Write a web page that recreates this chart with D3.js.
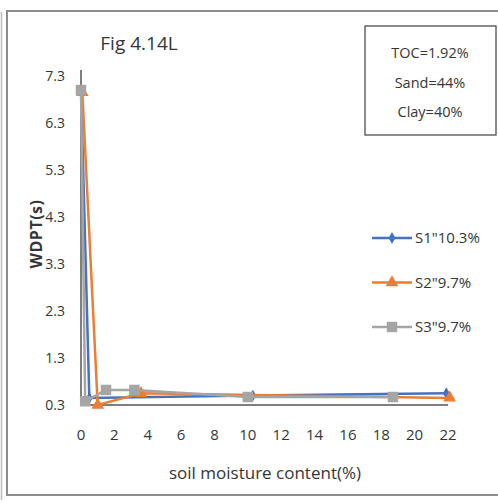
<!DOCTYPE html>
<html>
<head>
<meta charset="utf-8">
<script src="https://cdn.jsdelivr.net/npm/d3@7"></script>
<style>
  body { margin: 0; background: #fff; }
  text { font-family: "Open Sans", "Liberation Sans", sans-serif; fill: #363636; }
</style>
</head>
<body>
<div id="chart"></div>
<script>
// data
const s1X = [0, 0.5, 10.3, 21.9];
const s1Y = [7.0, 0.45, 0.5, 0.55];
const s2X = [0.08, 1.0, 3.6, 22.1];
const s2Y = [6.95, 0.3, 0.55, 0.45];
const s3X = [0, 0.25, 1.5, 3.2, 10.0, 18.7];
const s3Y = [7.0, 0.38, 0.62, 0.62, 0.47, 0.47];
const seriesNames = ["S1\"10.3%", "S2\"9.7%", "S3\"9.7%"];
const xTicks = [0, 2, 4, 6, 8, 10, 12, 14, 16, 18, 20, 22];
const yTicks = [0.3, 1.3, 2.3, 3.3, 4.3, 5.3, 6.3, 7.3];
const infoLines = ["TOC=1.92%", "Sand=44%", "Clay=40%"];

const W = 498, H = 503;
const svg = d3.select("#chart").append("svg")
    .attr("width", W).attr("height", H);

// outer frame
svg.append("line").attr("x1", 1.5).attr("x2", 1.5).attr("y1", 12).attr("y2", 500)
    .attr("stroke", "#bbb").attr("stroke-width", 1.5);
svg.append("rect").attr("x", 7).attr("y", 11).attr("width", 495).attr("height", 484)
    .attr("fill", "none").attr("stroke", "#8c8c8c").attr("stroke-width", 2);

const x = d3.scaleLinear().domain([0, 22]).range([81, 448]);
const y = d3.scaleLinear().domain([0.3, 7.3]).range([405, 76]);

// title
svg.append("text").attr("x", 139).attr("y", 50).attr("text-anchor", "middle")
    .style("font-size", "19px").text("Fig 4.14L");

// axes
svg.append("line").attr("x1", x(0)).attr("x2", x(0)).attr("y1", 70).attr("y2", y(0.3))
    .attr("stroke", "#7f7f7f").attr("stroke-width", 2);
svg.append("line").attr("x1", x(0)).attr("x2", x(22)).attr("y1", y(0.3)).attr("y2", y(0.3))
    .attr("stroke", "#7f7f7f").attr("stroke-width", 2);

svg.append("g").selectAll("text").data(yTicks).join("text")
    .attr("x", 65).attr("y", d => y(d)).attr("dy", "0.35em")
    .attr("text-anchor", "end").style("font-size", "14px")
    .text(d => d.toFixed(1));

svg.append("g").selectAll("text").data(xTicks).join("text")
    .attr("x", d => x(d)).attr("y", 440)
    .attr("text-anchor", "middle").style("font-size", "15px")
    .text(d => d);

svg.append("text").attr("x", 265).attr("y", 479).attr("text-anchor", "middle")
    .style("font-size", "17px").text("soil moisture content(%)");

svg.append("text").attr("transform", "translate(42,234) rotate(-90)")
    .attr("text-anchor", "middle").style("font-size", "16px")
    .style("font-weight", "bold").style("letter-spacing", "0.5px").text("WDPT(s)");

// series
const series = [
  {name: seriesNames[0], xs: s1X, ys: s1Y, color: "#4472C4", sym: d3.symbolDiamond, size: 40},
  {name: seriesNames[1], xs: s2X, ys: s2Y, color: "#ED7D31", sym: d3.symbolTriangle, size: 70},
  {name: seriesNames[2], xs: s3X, ys: s3Y, color: "#A5A5A5", sym: d3.symbolSquare, size: 110}
];

const line = d3.line().x(d => x(d[0])).y(d => y(d[1]));

series.forEach(s => {
  const pts = s.xs.map((v, i) => [v, s.ys[i]]);
  const g = svg.append("g");
  g.append("path").datum(pts).attr("d", line)
      .attr("fill", "none").attr("stroke", s.color).attr("stroke-width", 2.5);
  g.selectAll("path.m").data(pts).join("path").attr("class", "m")
      .attr("transform", d => `translate(${x(d[0])},${y(d[1])})`)
      .attr("d", d3.symbol().type(s.sym).size(s.size))
      .attr("fill", s.color);
});

// legend
const leg = svg.append("g").selectAll("g").data(series).join("g")
    .attr("transform", (d, i) => `translate(372,${238 + i * 44.5})`);
leg.append("line").attr("x1", 0).attr("x2", 40)
    .attr("stroke", d => d.color).attr("stroke-width", 2.5);
leg.append("path").attr("transform", "translate(20,0)")
    .attr("d", d => d3.symbol().type(d.sym).size(d.size)())
    .attr("fill", d => d.color);
leg.append("text").attr("x", 43).attr("dy", "0.35em")
    .style("font-size", "15px").text(d => d.name);

// info box
svg.append("rect").attr("x", 365).attr("y", 26).attr("width", 131).attr("height", 109)
    .attr("fill", "#fff").attr("stroke", "#404040").attr("stroke-width", 1.2);
svg.append("g").selectAll("text").data(infoLines).join("text")
    .attr("x", 430).attr("y", (d, i) => 53 + i * 29.5).attr("dy", "0.35em")
    .attr("text-anchor", "middle").style("font-size", "14.5px")
    .text(d => d);
</script>
</body>
</html>
